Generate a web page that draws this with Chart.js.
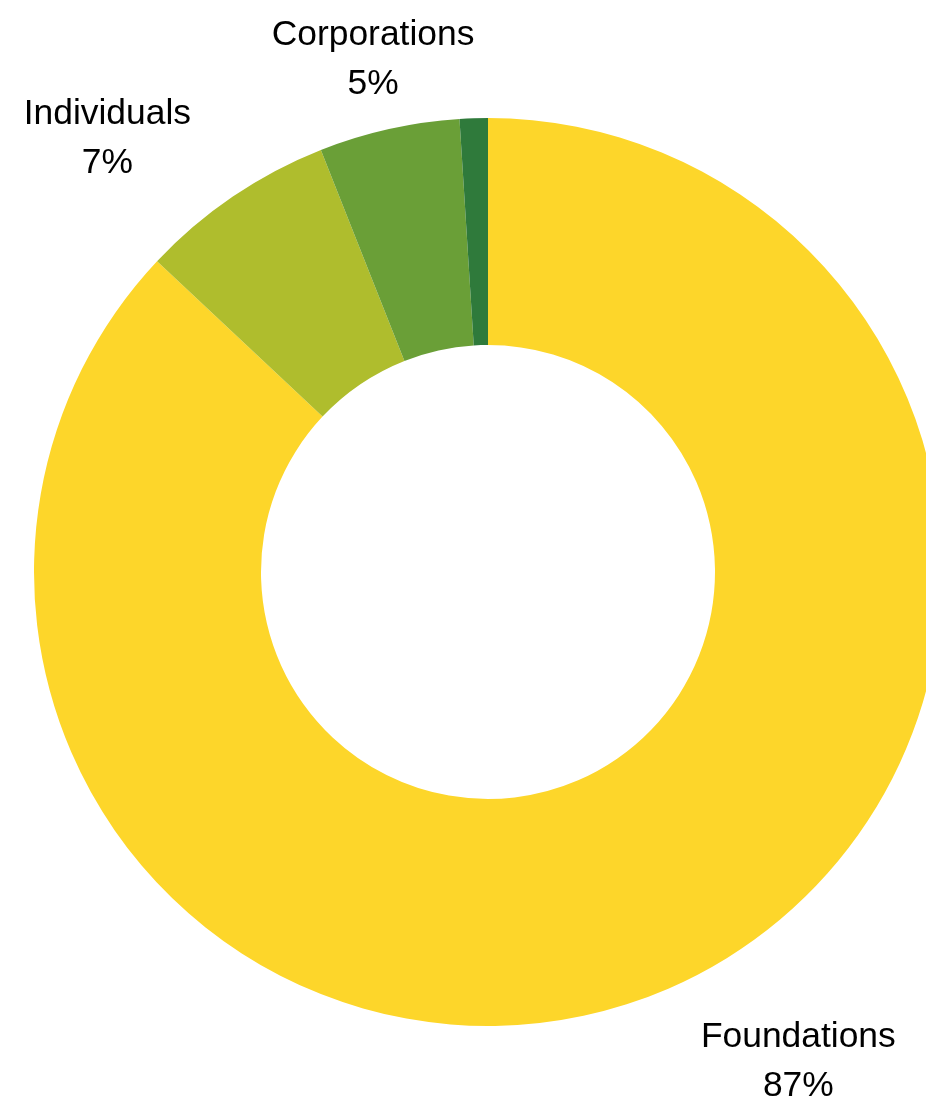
<!DOCTYPE html>
<html>
<head>
<meta charset="utf-8">
<script src="https://cdn.jsdelivr.net/npm/chart.js@4"></script>
<style>
  html, body { margin: 0; padding: 0; background: #fff; overflow: hidden; }
  #wrap { position: absolute; left: 0; top: 0; width: 976px; height: 1099px; }
</style>
</head>
<body>
<div id="wrap"><canvas id="js--donut" width="976" height="1099"></canvas></div>
<script>
const labels = ['Foundations', 'Individuals', 'Corporations', 'Other'];
const shares = [87, 7, 5, 1];
const colors = ['#FDD62A', '#AFBD2D', '#6A9F37', '#2F7A3B'];

// labels outside the ring, like the original export
const outsideLabels = {
  id: 'outsideLabels',
  afterDatasetsDraw(chart) {
    const ctx = chart.ctx;
    const meta = chart.getDatasetMeta(0);
    const total = shares.reduce((a, b) => a + b, 0);
    ctx.save();
    ctx.font = '35.4px "Liberation Sans", Arial, sans-serif';
    ctx.fillStyle = '#000';
    ctx.textBaseline = 'alphabetic';
    ctx.textAlign = 'center';
    meta.data.forEach((arc, i) => {
      if (shares[i] < 2) return;
      const p = arc.getProps(['x', 'y', 'startAngle', 'endAngle', 'outerRadius'], true);
      const mid = (p.startAngle + p.endAngle) / 2;
      const dx = Math.cos(mid), dy = Math.sin(mid);
      const lines = [labels[i], Math.round(shares[i] / total * 100) + '%'];
      const w = Math.max(...lines.map(t => ctx.measureText(t).width));
      let cx = p.x + p.outerRadius * 1.07 * dx;
      const ay = p.y + p.outerRadius * 1.17 * dy;
      if (Math.abs(dx) < 0.3) cx -= 9;
      else if (dx < 0) cx -= 24 + w / 2;
      else cx += 20 + w / 2;
      let first;
      if (dy < 0) first = ay + 40.5 - 49 * (lines.length - 1);
      else first = ay - 12.5;
      lines.forEach((t, k) => ctx.fillText(t, cx, first + k * 49));
    });
    ctx.restore();
  }
};

const config = {
  type: 'doughnut',
  data: {
    labels: labels,
    datasets: [{
      data: shares,
      backgroundColor: colors,
      borderWidth: 0
    }]
  },
  options: {
    responsive: false,
    animation: false,
    cutout: '50%',
    layout: { padding: { top: 118, bottom: 73, left: 0, right: 0 } },
    plugins: {
      legend: { display: false },
      tooltip: { enabled: false }
    }
  },
  plugins: [outsideLabels]
};

const chart1 = new Chart(document.getElementById('js--donut'), config);
</script>
</body>
</html>
